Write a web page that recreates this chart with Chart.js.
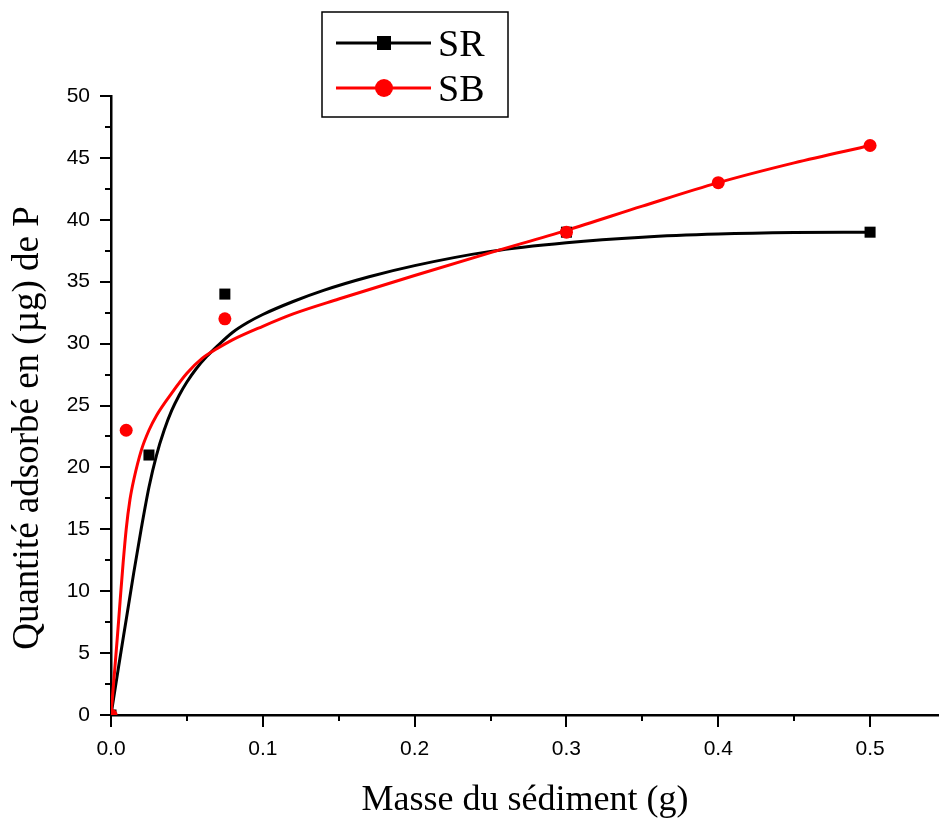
<!DOCTYPE html>
<html>
<head>
<meta charset="utf-8">
<script src="https://cdn.jsdelivr.net/npm/chart.js@4.4.0/dist/chart.umd.min.js"></script>
<style>
  html, body { margin: 0; padding: 0; background: #fff; }
  #wrap { width: 939px; height: 819px; }
</style>
</head>
<body>
<div id="wrap"><canvas id="adsChart" width="939" height="819"></canvas></div>
<script>
// measured points
const srMass = [0, 0.025, 0.075, 0.3, 0.5];
const srQty = [0, 21, 34, 39, 39];
const sbMass = [0, 0.01, 0.075, 0.3, 0.4, 0.5];
const sbQty = [0, 23, 32, 39, 43, 46];

// fitted curves
const srFitMass = [0, 0.005, 0.01, 0.015, 0.02, 0.025, 0.03, 0.035, 0.04, 0.045, 0.05, 0.056, 0.063, 0.07, 0.08, 0.09, 0.1, 0.12, 0.14, 0.17, 0.2, 0.25, 0.3, 0.35, 0.4, 0.45, 0.5];
const srFitQty = [0, 3.9, 7.7, 11.5, 15.1, 18.4, 21.0, 23.0, 24.6, 25.85, 26.9, 27.95, 28.95, 29.8, 30.9, 31.7, 32.35, 33.4, 34.3, 35.4, 36.3, 37.45, 38.15, 38.6, 38.85, 38.97, 39.0];
const sbFitMass = [0, 0.002, 0.004, 0.006, 0.008, 0.01, 0.0125, 0.015, 0.02, 0.025, 0.03, 0.04, 0.05, 0.06, 0.07, 0.08, 0.1, 0.12, 0.15, 0.2, 0.25, 0.3, 0.35, 0.4, 0.45, 0.5];
const sbFitQty = [0, 3.0, 6.0, 9.2, 12.3, 15.0, 17.4, 19.0, 21.4, 23.0, 24.2, 26.0, 27.6, 28.8, 29.6, 30.3, 31.4, 32.4, 33.6, 35.5, 37.35, 39.15, 41.1, 43.0, 44.6, 46.0];

const xMajor = [0, 0.1, 0.2, 0.3, 0.4, 0.5];
const xMinor = [0.05, 0.15, 0.25, 0.35, 0.45];
const yMajor = [0, 5, 10, 15, 20, 25, 30, 35, 40, 45, 50];
const yMinor = [2.5, 7.5, 12.5, 17.5, 22.5, 27.5, 32.5, 37.5, 42.5, 47.5];

const seriesNames = ['SR', 'SB'];
const xTitle = 'Masse du sédiment (g)';
const yTitle = 'Quantité adsorbé en (µg) de P';

const RED = '#ff0000';
const BLACK = '#000000';
const SERIF = '"Liberation Serif", "Times New Roman", serif';
const SANS = '"Liberation Sans", Arial, sans-serif';

const pts = (xs, ys) => xs.map((x, i) => ({ x: x, y: ys[i] }));

// outward tick marks, long on labelled values, short in between
const tickMarks = {
    id: 'tickMarks',
    afterDraw(chart) {
        const { ctx, chartArea, scales } = chart;
        ctx.save();
        ctx.strokeStyle = BLACK;
        ctx.lineWidth = 2;
        ctx.beginPath();
        const xt = (v, len) => {
            const px = Math.round(scales.x.getPixelForValue(v));
            ctx.moveTo(px, chartArea.bottom);
            ctx.lineTo(px, chartArea.bottom + len);
        };
        const yt = (v, len) => {
            const py = Math.round(scales.y.getPixelForValue(v));
            ctx.moveTo(chartArea.left, py);
            ctx.lineTo(chartArea.left - len, py);
        };
        xMajor.forEach(v => xt(v, 12));
        xMinor.forEach(v => xt(v, 6));
        yMajor.forEach(v => yt(v, 11));
        yMinor.forEach(v => yt(v, 6));
        ctx.stroke();
        ctx.restore();
    }
};

const axisTitles = {
    id: 'axisTitles',
    afterDraw(chart) {
        const { ctx, chartArea } = chart;
        ctx.save();
        ctx.fillStyle = BLACK;
        ctx.font = '36px ' + SERIF;
        ctx.textAlign = 'center';
        ctx.textBaseline = 'alphabetic';
        ctx.fillText(xTitle, (chartArea.left + chartArea.right) / 2, 810);
        ctx.translate(38, 428);
        ctx.rotate(-Math.PI / 2);
        ctx.font = '37px ' + SERIF;
        ctx.fillText(yTitle, 0, 0);
        ctx.restore();
    }
};

// boxed legend with line + marker samples
const boxLegend = {
    id: 'boxLegend',
    afterDraw(chart) {
        const ctx = chart.ctx;
        ctx.save();
        ctx.strokeStyle = BLACK;
        ctx.lineWidth = 1.5;
        ctx.strokeRect(322, 12, 186, 105);
        const rows = [
            { name: seriesNames[0], color: BLACK, y: 43, square: true },
            { name: seriesNames[1], color: RED, y: 88, square: false }
        ];
        rows.forEach(r => {
            ctx.strokeStyle = r.color;
            ctx.fillStyle = r.color;
            ctx.lineWidth = 3;
            ctx.beginPath();
            ctx.moveTo(336, r.y);
            ctx.lineTo(431, r.y);
            ctx.stroke();
            if (r.square) {
                ctx.fillRect(384 - 7, r.y - 7, 14, 14);
            } else {
                ctx.beginPath();
                ctx.arc(384, r.y, 9, 0, Math.PI * 2);
                ctx.fill();
            }
            ctx.fillStyle = BLACK;
            ctx.font = '38px ' + SERIF;
            ctx.textAlign = 'left';
            ctx.textBaseline = 'alphabetic';
            ctx.fillText(r.name, 438, r.y + 13);
        });
        ctx.restore();
    }
};

const ctx = document.getElementById('adsChart').getContext('2d');
window.adsChart = new Chart(ctx, {
    type: 'scatter',
    data: {
        datasets: [
            {
                label: seriesNames[1],
                data: pts(sbMass, sbQty),
                showLine: false,
                pointStyle: 'circle',
                pointRadius: 6.5,
                pointBorderWidth: 0,
                pointBackgroundColor: RED,
                clip: 0
            },
            {
                label: seriesNames[0],
                data: pts(srMass, srQty),
                showLine: false,
                pointStyle: 'rect',
                pointRadius: 7.8,
                pointBorderWidth: 0,
                pointBackgroundColor: BLACK,
                clip: 0
            },
            {
                label: seriesNames[1] + ' fit',
                data: pts(sbFitMass, sbFitQty),
                showLine: true,
                borderColor: RED,
                borderWidth: 3,
                pointRadius: 0,
                cubicInterpolationMode: 'monotone',
                clip: 0
            },
            {
                label: seriesNames[0] + ' fit',
                data: pts(srFitMass, srFitQty),
                showLine: true,
                borderColor: BLACK,
                borderWidth: 3,
                pointRadius: 0,
                cubicInterpolationMode: 'monotone',
                clip: 0
            }
        ]
    },
    options: {
        responsive: false,
        devicePixelRatio: 1,
        animation: false,
        layout: { autoPadding: false, padding: { top: 96, right: 0, left: 0, bottom: 0 } },
        plugins: {
            legend: { display: false },
            tooltip: { enabled: false }
        },
        scales: {
            x: {
                type: 'linear',
                min: 0,
                max: 0.5454,
                afterBuildTicks: scale => { scale.ticks = xMajor.map(v => ({ value: v })); },
                afterFit: scale => { scale.height = 104; },
                grid: { display: false, drawTicks: false },
                border: { display: true, color: BLACK, width: 2.5 },
                ticks: {
                    color: BLACK,
                    padding: 22,
                    maxRotation: 0,
                    font: { family: SANS, size: 21 },
                    callback: v => v.toFixed(1)
                }
            },
            y: {
                type: 'linear',
                min: 0,
                max: 50,
                afterBuildTicks: scale => { scale.ticks = yMajor.map(v => ({ value: v })); },
                afterFit: scale => { scale.width = 111; },
                grid: { display: false, drawTicks: false },
                border: { display: true, color: BLACK, width: 2.5 },
                ticks: {
                    color: BLACK,
                    padding: 21,
                    font: { family: SANS, size: 21 },
                    callback: v => String(v)
                }
            }
        }
    },
    plugins: [tickMarks, axisTitles, boxLegend]
});
</script>
</body>
</html>
